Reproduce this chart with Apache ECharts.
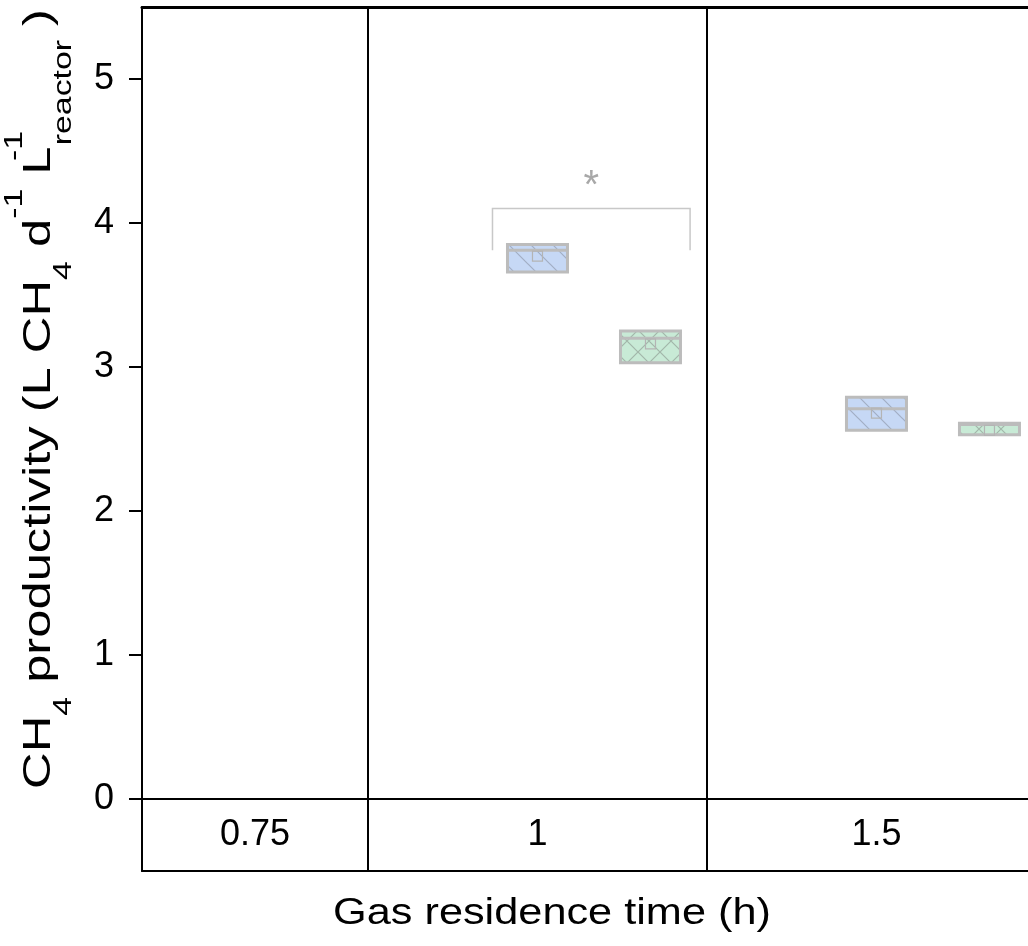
<!DOCTYPE html>
<html>
<head>
<meta charset="utf-8">
<script src="https://cdn.jsdelivr.net/npm/echarts@6/dist/echarts.min.js"></script>
<style>
  html, body { margin: 0; padding: 0; background: #fff; }
  #chart { width: 1028px; height: 946px; }
</style>
</head>
<body>
<div id="chart"></div>
<script>
// Gas residence time groups (h)
const categories = ['0.75', '1', '1.5'];

// Box statistics per group: [q1, median, q3, mean]; null where a group has no data
const reactorA = [null, [3.66, 3.81, 3.85, 3.77], [2.56, 2.71, 2.79, 2.68]];
const reactorB = [null, [3.03, 3.20, 3.25, 3.16], [2.53, 2.60, 2.61, 2.56]];

// Value-axis tick labels
const yTicks = [0, 1, 2, 3, 4, 5];

// Significance bracket between the two boxes of a group
const sigGroups = [1];
const sigLevels = [4.10];
const sigLegEnds = [3.81];
const sigLabels = ['*'];

const FONT = '"Liberation Sans", Arial, Helvetica, sans-serif';

// Each group occupies one unit on the x axis: [i, i + 1]; the first and last groups are cut off.
const X_MIN = 1 / 3;
const X_MAX = 2.947;
const SLOT_A = 0.5;      // reactor A box centre inside a group
const SLOT_B = 5 / 6;    // reactor B box centre inside a group
const BOX_W = 0.177;     // box width in group units

function hatchPattern(bg, line, cross) {
  const s = 22;
  const c = document.createElement('canvas');
  c.width = s; c.height = s;
  const g = c.getContext('2d');
  g.fillStyle = bg;
  g.fillRect(0, 0, s, s);
  g.strokeStyle = line;
  g.lineWidth = 1.2;
  g.beginPath();
  // "\" diagonals
  g.moveTo(-2, -2); g.lineTo(s + 2, s + 2);
  g.moveTo(-2, s - 2); g.lineTo(2, s + 2);
  g.moveTo(s - 2, -2); g.lineTo(s + 2, 2);
  if (cross) {
    // "/" diagonals
    g.moveTo(-2, s + 2); g.lineTo(s + 2, -2);
    g.moveTo(-2, 2); g.lineTo(2, -2);
    g.moveTo(s - 2, s + 2); g.lineTo(s + 2, s - 2);
  }
  g.stroke();
  return { image: c, repeat: 'repeat' };
}

const fillA = hatchPattern('#c6d8f5', 'rgba(150,160,180,0.75)', false);
const fillB = hatchPattern('#c8ead6', 'rgba(150,165,155,0.75)', true);

function boxData(arr) {
  const out = [];
  arr.forEach((v, i) => { if (v) out.push([i, v[0], v[1], v[2], v[3]]); });
  return out;
}

function boxRenderer(slot, fill) {
  return function (params, api) {
    const xc = api.value(0) + slot;
    const q1 = api.value(1), med = api.value(2), q3 = api.value(3), mean = api.value(4);
    const unit = api.size([1, 0])[0];
    const w = unit * BOX_W;
    const top = api.coord([xc, q3]);
    const bot = api.coord([xc, q1]);
    const pm = api.coord([xc, med]);
    const pMean = api.coord([xc, mean]);
    const x0 = top[0] - w / 2;
    const sq = 10;
    return {
      type: 'group',
      children: [
        {
          type: 'rect',
          shape: { x: x0, y: top[1], width: w, height: bot[1] - top[1] },
          style: { fill: fill, stroke: '#bcbcbc', lineWidth: 3 }
        },
        {
          type: 'line',
          shape: { x1: x0, y1: pm[1], x2: x0 + w, y2: pm[1] },
          style: { stroke: '#bcbcbc', lineWidth: 3 }
        },
        {
          type: 'rect',
          shape: { x: pMean[0] - sq / 2, y: pMean[1] - sq / 2, width: sq, height: sq },
          style: { fill: 'none', stroke: '#b4b4b4', lineWidth: 1.2 }
        }
      ]
    };
  };
}

function sigData() {
  return sigGroups.map((g, i) => [g, sigLevels[i], sigLegEnds[i], i]);
}

function sigRenderer(params, api) {
  const g = api.value(0);
  const level = api.value(1), legEnd = api.value(2);
  const label = sigLabels[api.value(3)];
  const unit = api.size([1, 0])[0];
  const left = api.coord([g + SLOT_A, level])[0] - unit * BOX_W * 0.75;
  const right = api.coord([g + SLOT_B, level])[0] + unit * BOX_W * 0.66;
  const yTop = api.coord([g, level])[1];
  const yLeg = api.coord([g, legEnd])[1];
  return {
    type: 'group',
    children: [
      {
        type: 'polyline',
        shape: { points: [[left, yLeg], [left, yTop], [right, yTop], [right, yLeg]] },
        style: { fill: 'none', stroke: '#c8c8c8', lineWidth: 1.5 }
      },
      {
        type: 'text',
        x: (left + right) / 2,
        y: yTop - 22,
        style: {
          text: label, fill: '#a8a8a8', font: '40px ' + FONT,
          align: 'center', verticalAlign: 'middle'
        }
      }
    ]
  };
}

function catLabelData() {
  return categories.map((c, i) => [i, Math.max(i, X_MIN), i + 1]);
}

function catLabelRenderer(params, api) {
  const i = api.value(0);
  const xMid = (api.value(1) + api.value(2)) / 2;
  const p = api.coord([xMid, -0.25]);
  return {
    type: 'text',
    x: p[0], y: p[1],
    style: {
      text: categories[i], fill: '#000', font: '36px ' + FONT,
      align: 'center', verticalAlign: 'middle'
    }
  };
}

const chart = echarts.init(document.getElementById('chart'), null, { renderer: 'canvas' });

const hiddenAxisCommon = {
  type: 'value', min: X_MIN, max: X_MAX,
  axisTick: { show: false }, axisLabel: { show: false }, splitLine: { show: false }
};

chart.setOption({
  animation: false,
  backgroundColor: '#fff',
  grid: { left: 142, top: 7, right: 0, bottom: 75, containLabel: false },
  xAxis: [
    Object.assign({}, hiddenAxisCommon, {
      position: 'bottom',
      axisLine: { show: true, onZero: false, lineStyle: { color: '#000', width: 2 } }
    }),
    Object.assign({}, hiddenAxisCommon, {
      position: 'top',
      axisLine: { show: true, onZero: false, lineStyle: { color: '#000', width: 3 } }
    })
  ],
  yAxis: {
    type: 'value', min: -0.5, max: 5.5,
    axisLine: { show: true, lineStyle: { color: '#000', width: 2 } },
    axisTick: { show: true, customValues: yTicks, length: 13, lineStyle: { color: '#000', width: 2 } },
    axisLabel: { customValues: yTicks, fontSize: 36, color: '#000', fontFamily: FONT, margin: 28 },
    splitLine: { show: false }
  },
  graphic: [
    {
      type: 'text',
      x: 552, y: 914,
      scaleX: 1.17,
      style: {
        text: 'Gas residence time (h)', fill: '#000', font: '37px ' + FONT,
        align: 'center', verticalAlign: 'middle'
      }
    },
    {
      type: 'text',
      x: 39.5, y: 399,
      rotation: Math.PI / 2,
      scaleX: 1.3,
      style: {
        text: '{m|CH}{sb|4}{m| productivity (L CH}{sb|4}{m| d}{sp|-1}{m| L}{sp0|-1}{sb|reactor}{m| )}',
        fill: '#000', align: 'center', verticalAlign: 'middle',
        rich: {
          m: { fontSize: 39, fontFamily: FONT, lineHeight: 75, verticalAlign: 'middle', fill: '#000' },
          sb: { fontSize: 26, fontFamily: FONT, lineHeight: 26, verticalAlign: 'bottom', fill: '#000' },
          sp: { fontSize: 26, fontFamily: FONT, lineHeight: 42, verticalAlign: 'top', fill: '#000' },
          sp0: { fontSize: 26, fontFamily: FONT, lineHeight: 42, verticalAlign: 'top', width: 1, fill: '#000' }
        }
      }
    }
  ],
  series: [
    {
      type: 'line', data: [], silent: true,
      markLine: {
        silent: true, symbol: 'none', animation: false,
        label: { show: false },
        lineStyle: { color: '#000', width: 2, type: 'solid' },
        data: [{ yAxis: 0 }, { xAxis: 1 }, { xAxis: 2 }]
      }
    },
    {
      name: 'Reactor A', type: 'custom', silent: true,
      renderItem: boxRenderer(SLOT_A, fillA),
      data: boxData(reactorA), z: 3
    },
    {
      name: 'Reactor B', type: 'custom', silent: true,
      renderItem: boxRenderer(SLOT_B, fillB),
      data: boxData(reactorB), z: 3
    },
    {
      type: 'custom', silent: true,
      renderItem: sigRenderer,
      data: sigData(), z: 4
    },
    {
      type: 'custom', silent: true,
      renderItem: catLabelRenderer,
      data: catLabelData(), z: 4
    }
  ]
});
</script>
</body>
</html>
